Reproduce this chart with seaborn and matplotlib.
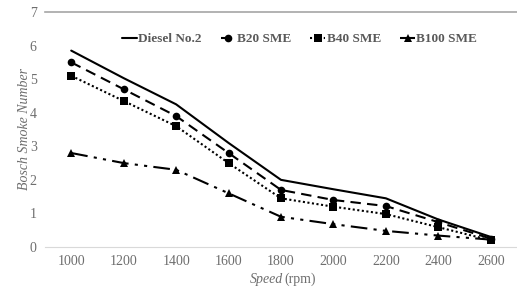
import numpy as np
import pandas as pd
import seaborn as sns
import matplotlib.pyplot as plt

# data
speeds = [1000, 1200, 1400, 1600, 1800, 2000, 2200, 2400, 2600]
diesel = [5.85, 5.03, 4.25, 3.1, 2.0, 1.72, 1.45, 0.82, 0.3]
b20 = [5.5, 4.7, 3.9, 2.8, 1.7, 1.4, 1.22, 0.74, 0.25]
b40 = [5.1, 4.35, 3.6, 2.5, 1.45, 1.2, 0.98, 0.59, 0.2]
b100 = [2.8, 2.5, 2.3, 1.6, 0.9, 0.68, 0.48, 0.34, 0.22]
series_names = ['Diesel No.2', 'B20 SME', 'B40 SME', 'B100 SME']

sns.set_style("white")
plt.rcParams['font.family'] = ['Liberation Serif', 'DejaVu Serif']

rows = []
for name, vals in zip(series_names, [diesel, b20, b40, b100]):
    for i, v in enumerate(vals):
        rows.append({'pos': i, 'value': v, 'fuel': name})
df = pd.DataFrame(rows)

styles = {
    'Diesel No.2': dict(ls='-', marker=None, ms=0),
    'B20 SME': dict(ls=(0, (5, 3)), marker='o', ms=5.5),
    'B40 SME': dict(ls=(0, (1, 1.2)), marker='s', ms=5.5),
    'B100 SME': dict(ls=(0, (8, 3, 1.5, 3, 1.5, 3)), marker='^', ms=5.5),
}

fig = plt.figure(figsize=(5.17, 2.87), dpi=100)
ax = fig.add_axes([45 / 517, 40 / 287, 472 / 517, 235 / 287])

for name in series_names:
    st = styles[name]
    sns.lineplot(data=df[df['fuel'] == name], x='pos', y='value', ax=ax,
                 color='black', lw=1.5, linestyle=st['ls'], marker=st['marker'],
                 markersize=st['ms'], markeredgewidth=0, label=name)

gray = '#595959'
ax.set_xlim(-0.5, len(speeds) - 0.5)
ax.set_ylim(0, 7)
ax.set_xticks(range(len(speeds)))
ax.set_xticklabels([str(s) for s in speeds])
ax.set_yticks(range(0, 8))
ax.tick_params(axis='both', labelsize=10, colors='#6e6e6e', length=0, pad=6)
for sp in ['left', 'right']:
    ax.spines[sp].set_visible(False)
ax.spines['bottom'].set_color('#d9d9d9')
ax.spines['top'].set_color('#a6a6a6')
ax.spines['top'].set_linewidth(1.2)

ax.set_xlabel('')
ax.set_ylabel('Bosch Smoke Number', fontsize=10, color='#6e6e6e', style='italic', labelpad=-1)
fig.text(0.548, 0.015, 'Speed', fontsize=10, color='#6e6e6e', style='italic', ha='right')
fig.text(0.550, 0.015, '(rpm)', fontsize=10, color='#6e6e6e', ha='left')

leg = ax.legend(loc='center', bbox_to_anchor=(0.539, 0.885), ncol=4, frameon=False,
                handlelength=1.14, handletextpad=0.1, columnspacing=1.45,
                prop={'weight': 'bold', 'size': 9.5})
for t in leg.get_texts():
    t.set_color(gray)

fig.savefig('out.png', dpi=100)
